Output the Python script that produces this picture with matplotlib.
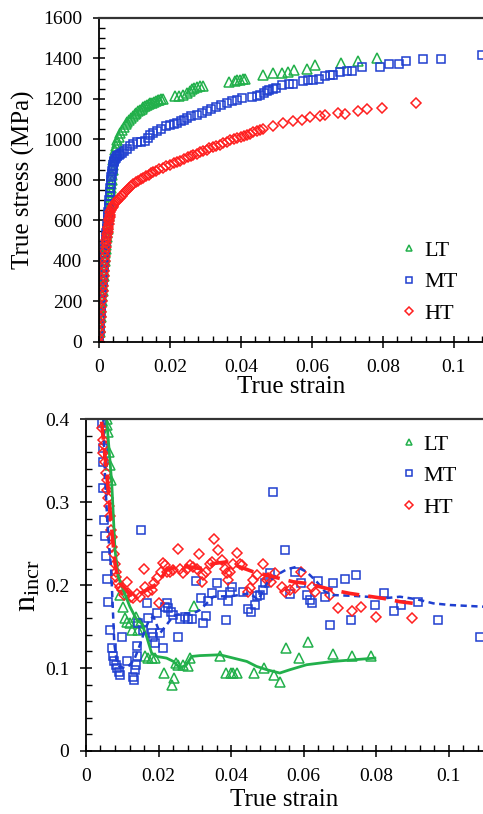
import matplotlib
matplotlib.use("Agg")
import matplotlib.pyplot as plt
from matplotlib.ticker import MultipleLocator, FuncFormatter

plt.rcParams["font.family"] = ["Liberation Serif", "DejaVu Serif"]
plt.rcParams["mathtext.fontset"] = "custom"
plt.rcParams["mathtext.rm"] = "Liberation Serif"
plt.rcParams["mathtext.it"] = "Liberation Serif:italic"

GREEN = "#22b04b"
BLUE = "#1f3fd0"
RED = "#ff2020"

# ---- top panel: true stress vs true strain ----
lt_strain = [0, 0.0001, 0.0002, 0.0003, 0.0004, 0.0005, 0.0006, 0.0007, 0.0008, 0.0009,
             0.001, 0.0011, 0.0012, 0.0013, 0.0014, 0.0015, 0.0016, 0.0017, 0.0018, 0.0019,
             0.002, 0.0021, 0.0022, 0.0023, 0.0024, 0.0025, 0.0026, 0.0027, 0.0028, 0.0029,
             0.003, 0.0031, 0.0032, 0.0033, 0.0034, 0.0035, 0.0036, 0.0037, 0.0038, 0.0039,
             0.004, 0.0042, 0.0045, 0.0047, 0.005, 0.0052, 0.0055, 0.006, 0.0065, 0.007,
             0.0075, 0.008, 0.0085, 0.009, 0.0095, 0.01, 0.0105, 0.011, 0.0115, 0.012,
             0.0125, 0.013, 0.0135, 0.014, 0.0145, 0.015, 0.0155, 0.016, 0.0165, 0.017,
             0.0175, 0.018,
             0.0214, 0.0225, 0.0236, 0.0247, 0.0255, 0.0261, 0.0268, 0.0275, 0.0285, 0.0294,
             0.0367, 0.0383, 0.039, 0.0397, 0.0405, 0.0411, 0.0463, 0.049, 0.0515, 0.0533,
             0.0549, 0.0587, 0.061, 0.0681, 0.073, 0.0784]
lt_stress = [0, 25, 50, 75, 100, 125, 150, 175, 200, 225,
             250, 275, 300, 325, 350, 375, 400, 420, 440, 460,
             480, 500, 520, 540, 560, 580, 600, 620, 640, 660,
             680, 700, 720, 740, 760, 780, 800, 825, 850, 875,
             900, 920, 950, 968, 985, 995, 1010, 1030, 1048, 1062,
             1075, 1087, 1098, 1108, 1117, 1125, 1133, 1140, 1146, 1152,
             1158, 1164, 1169, 1174, 1178, 1182, 1186, 1190, 1193, 1196,
             1199, 1202,
             1217, 1215, 1221, 1232, 1240, 1248, 1252, 1258, 1262, 1265,
             1282, 1287, 1292, 1295, 1298, 1301, 1318, 1328, 1328, 1331,
             1344, 1349, 1366, 1377, 1389, 1402]

mt_strain = [0, 0.0001, 0.0002, 0.0003, 0.0004, 0.0005, 0.0006, 0.0007, 0.0008, 0.0009,
             0.001, 0.0011, 0.0012, 0.0013, 0.0014, 0.0015, 0.0016, 0.0017, 0.0018, 0.0019,
             0.002, 0.0021, 0.0022, 0.0023, 0.0024, 0.0025, 0.0026, 0.0027, 0.0028, 0.0029,
             0.003, 0.0031, 0.0032, 0.0033, 0.0034, 0.0035, 0.0036, 0.0037, 0.0038, 0.0039,
             0.004, 0.0042, 0.0043, 0.0045, 0.0047, 0.005, 0.0052, 0.0055, 0.0058, 0.0064,
             0.007, 0.0078, 0.0087, 0.0095, 0.0106, 0.0118, 0.013, 0.0137, 0.0144, 0.0152,
             0.0162, 0.0175, 0.019, 0.02, 0.021, 0.0219, 0.023, 0.024, 0.0247, 0.026,
             0.0275, 0.029, 0.0303, 0.0315, 0.0331, 0.0345, 0.036, 0.0375, 0.0388, 0.0402,
             0.0432, 0.0445, 0.0454, 0.0465, 0.0472, 0.048, 0.049, 0.05, 0.0515, 0.0535,
             0.0547, 0.0576, 0.059, 0.0604, 0.062, 0.0636, 0.065, 0.066, 0.0679, 0.07,
             0.0712, 0.074, 0.0792, 0.0818, 0.0846, 0.0865, 0.0914, 0.0965, 0.1078]
mt_stress = [0, 30, 60, 90, 120, 150, 180, 210, 240, 270,
             300, 325, 350, 375, 400, 420, 440, 460, 480, 500,
             520, 540, 560, 580, 600, 620, 640, 660, 680, 700,
             720, 740, 760, 780, 800, 815, 830, 843, 855, 865,
             875, 888, 895, 903, 910, 916, 920, 924, 928, 935,
             943, 955, 967, 978, 986, 988, 991, 1005, 1024, 1030,
             1041, 1050, 1066, 1072, 1077, 1082, 1090, 1098, 1107, 1115,
             1122, 1130, 1140, 1150, 1160, 1170, 1181, 1190, 1196, 1203,
             1212, 1215, 1221, 1230, 1237, 1242, 1249, 1256, 1270, 1273,
             1273, 1290, 1292, 1295, 1298, 1315, 1316, 1318, 1331, 1338,
             1339, 1357, 1356, 1372, 1372, 1389, 1397, 1397, 1419]

ht_strain = [0, 0.0001, 0.0002, 0.0003, 0.0004, 0.0005, 0.0006, 0.0007, 0.0008, 0.0009,
             0.001, 0.0011, 0.0012, 0.0013, 0.0014, 0.0015, 0.0016, 0.0017, 0.0018, 0.0019,
             0.002, 0.0021, 0.0022, 0.0023, 0.0024, 0.0025, 0.0026, 0.0027, 0.0028, 0.0029,
             0.003, 0.0031, 0.0032, 0.0034, 0.0036, 0.0038, 0.004, 0.0043, 0.0047, 0.005,
             0.0054, 0.0059, 0.0064, 0.0068, 0.0073, 0.0079, 0.0085, 0.0091, 0.0097, 0.0103,
             0.011, 0.0117, 0.0125, 0.0132, 0.014, 0.0146, 0.0153, 0.0161, 0.017, 0.018,
             0.019, 0.02, 0.021, 0.0219, 0.0228, 0.0239, 0.025, 0.0258, 0.0266, 0.0275,
             0.0285, 0.0294, 0.0303, 0.0311, 0.032, 0.033, 0.0341, 0.035, 0.036, 0.037,
             0.0379, 0.039, 0.04, 0.0408, 0.0416, 0.0425, 0.0435, 0.0445, 0.0454,
             0.0461, 0.0491, 0.0519, 0.0547, 0.0571, 0.0594, 0.0623, 0.0636, 0.0674, 0.0693,
             0.073, 0.0754, 0.0796, 0.0894]
ht_stress = [0, 25, 50, 75, 100, 125, 150, 175, 200, 225,
             250, 275, 300, 325, 350, 375, 400, 425, 450, 470,
             490, 505, 520, 533, 545, 558, 570, 583, 595, 607,
             618, 629, 640, 650, 660, 665, 670, 680, 690, 698,
             705, 713, 720, 730, 740, 750, 760, 770, 780, 788,
             795, 803, 810, 818, 825, 832, 838, 846, 853, 861,
             868, 875, 882, 889, 896, 904, 911, 918, 924, 930,
             937, 944, 950, 956, 962, 969, 975, 982, 990, 997,
             1003, 1008, 1013, 1018, 1023, 1029, 1035, 1041, 1047,
             1052, 1067, 1080, 1089, 1097, 1110, 1118, 1122, 1130, 1127,
             1143, 1151, 1155, 1178]

# ---- bottom panel: incremental strain-hardening exponent ----
lt_n_strain = [0.0057, 0.0059, 0.0062, 0.0063, 0.0066, 0.0069, 0.0094, 0.0103, 0.0107, 0.0112,
               0.0121, 0.0126, 0.0138, 0.0144, 0.0149, 0.0163, 0.0172, 0.0181, 0.019, 0.0215,
               0.0236, 0.0242, 0.0247, 0.0254, 0.0268, 0.0282, 0.0288, 0.0298, 0.0369, 0.0386,
               0.0399, 0.0406, 0.0415, 0.0464, 0.0491, 0.0518, 0.0534, 0.055, 0.0588, 0.0612,
               0.0681, 0.0733, 0.0785]
lt_n = [0.400, 0.393, 0.385, 0.361, 0.345, 0.327, 0.188, 0.174, 0.160, 0.156,
        0.154, 0.146, 0.162, 0.146, 0.154, 0.114, 0.112, 0.112, 0.112, 0.094,
        0.080, 0.088, 0.106, 0.104, 0.104, 0.102, 0.112, 0.175, 0.114, 0.094,
        0.094, 0.094, 0.094, 0.094, 0.0997, 0.092, 0.083, 0.124, 0.112, 0.131,
        0.117, 0.114, 0.115]

mt_n_strain = [0.0044, 0.0046, 0.0048, 0.0048, 0.0051, 0.0052, 0.0055, 0.0057, 0.0062, 0.0066,
               0.0071, 0.0075, 0.0078, 0.0083, 0.0086, 0.009, 0.0094, 0.01, 0.0114, 0.013,
               0.0132, 0.0135, 0.0138, 0.014, 0.0141, 0.0144, 0.0152, 0.0158, 0.0169, 0.0172,
               0.0181, 0.0185, 0.019, 0.0195, 0.0204, 0.0213, 0.0218, 0.0222, 0.0227, 0.0233,
               0.0241, 0.0254, 0.0259, 0.0273, 0.0282, 0.0291, 0.0303, 0.0316, 0.0323, 0.0332,
               0.0337, 0.0346, 0.036, 0.0374, 0.0385, 0.0392, 0.0397, 0.0401, 0.0433, 0.0447,
               0.0456, 0.0465, 0.047, 0.0479, 0.0488, 0.0493, 0.0507, 0.0514, 0.0548, 0.0562,
               0.0576, 0.0592, 0.0608, 0.0617, 0.0622, 0.064, 0.0658, 0.0672, 0.0681, 0.0713,
               0.0729, 0.0744, 0.0796, 0.0821, 0.0849, 0.0868, 0.0916, 0.0971, 0.1085]
mt_n = [0.395, 0.365, 0.348, 0.317, 0.279, 0.259, 0.235, 0.207, 0.180, 0.146,
        0.124, 0.114, 0.108, 0.104, 0.0997, 0.0957, 0.0917, 0.138, 0.108, 0.0896,
        0.0856, 0.0977, 0.104, 0.114, 0.126, 0.154, 0.266, 0.146, 0.178, 0.160,
        0.142, 0.138, 0.130, 0.166, 0.142, 0.124, 0.174, 0.178, 0.172, 0.168,
        0.164, 0.138, 0.159, 0.162, 0.159, 0.159, 0.205, 0.184, 0.154, 0.163,
        0.181, 0.191, 0.202, 0.188, 0.158, 0.181, 0.192, 0.198, 0.192, 0.171,
        0.167, 0.176, 0.187, 0.188, 0.194, 0.202, 0.215, 0.312, 0.242, 0.189,
        0.216, 0.203, 0.188, 0.182, 0.179, 0.205, 0.186, 0.152, 0.203, 0.207,
        0.158, 0.212, 0.176, 0.191, 0.169, 0.176, 0.180, 0.158, 0.137]

ht_n_strain = [0.0043, 0.0048, 0.005, 0.0048, 0.0052, 0.0055, 0.0057, 0.0059, 0.0062, 0.0064,
               0.0066, 0.0069, 0.0071, 0.0073, 0.0077, 0.008, 0.0083, 0.0084, 0.0089, 0.0094,
               0.0098, 0.0105, 0.0112, 0.0117, 0.0123, 0.013, 0.014, 0.0149, 0.016, 0.0164,
               0.0172, 0.0181, 0.0187, 0.0195, 0.0202, 0.0208, 0.0213, 0.0218, 0.0222, 0.0231,
               0.0241, 0.0254, 0.0259, 0.0268, 0.0277, 0.0286, 0.0296, 0.0305, 0.0312, 0.0319,
               0.0323, 0.0332, 0.0342, 0.0346, 0.0353, 0.0365, 0.0374, 0.0383, 0.0388, 0.0392,
               0.0397, 0.0406, 0.0415, 0.0424, 0.0429, 0.0447, 0.0452, 0.0461, 0.047, 0.0489,
               0.0498, 0.0502, 0.0511, 0.0521, 0.0539, 0.0548, 0.0562, 0.0576, 0.0592, 0.0622,
               0.0631, 0.0672, 0.0695, 0.0732, 0.0757, 0.0799, 0.0897]
ht_n = [0.389, 0.375, 0.369, 0.359, 0.349, 0.335, 0.327, 0.315, 0.305, 0.295,
        0.283, 0.267, 0.258, 0.246, 0.238, 0.226, 0.216, 0.210, 0.202, 0.198,
        0.194, 0.188, 0.204, 0.190, 0.186, 0.184, 0.189, 0.186, 0.219, 0.198,
        0.192, 0.194, 0.202, 0.208, 0.179, 0.216, 0.227, 0.224, 0.216, 0.216,
        0.218, 0.243, 0.220, 0.214, 0.220, 0.224, 0.222, 0.220, 0.237, 0.204,
        0.212, 0.216, 0.226, 0.228, 0.256, 0.242, 0.230, 0.220, 0.215, 0.206,
        0.216, 0.226, 0.239, 0.226, 0.224, 0.192, 0.196, 0.206, 0.212, 0.226,
        0.206, 0.208, 0.204, 0.214, 0.198, 0.192, 0.194, 0.196, 0.216, 0.198,
        0.192, 0.188, 0.172, 0.169, 0.173, 0.162, 0.160]

# fitted / smoothed curves
lt_fit_strain = [0.0057, 0.0071, 0.008, 0.0089, 0.0103, 0.0121, 0.014, 0.0153, 0.0167, 0.0181,
                 0.0195, 0.0222, 0.0241, 0.0259, 0.0277, 0.0291, 0.0314, 0.0369, 0.0406, 0.0443,
                 0.047, 0.0498, 0.0534, 0.0562, 0.0608, 0.0681, 0.0796]
lt_fit = [0.400, 0.323, 0.242, 0.210, 0.194, 0.174, 0.158, 0.154, 0.138, 0.118,
          0.114, 0.112, 0.108, 0.100, 0.104, 0.114, 0.115, 0.116, 0.112, 0.108,
          0.102, 0.098, 0.094, 0.098, 0.104, 0.108, 0.112]

mt_fit_strain = [0.0048, 0.0052, 0.0059, 0.0065, 0.0069, 0.0073, 0.0078, 0.0084, 0.0092, 0.0106,
                 0.0119, 0.0133, 0.0147, 0.0161, 0.0174, 0.0186, 0.0204, 0.0222, 0.0241, 0.0268,
                 0.0296, 0.0314, 0.0351, 0.0406, 0.0452, 0.0475, 0.0498, 0.0525, 0.0553, 0.058,
                 0.0608, 0.0636, 0.0659, 0.0682, 0.0736, 0.0773, 0.0819, 0.0865, 0.0911, 0.0957,
                 0.1003, 0.1094]
mt_fit = [0.400, 0.335, 0.275, 0.240, 0.222, 0.182, 0.130, 0.110, 0.102, 0.100,
          0.103, 0.110, 0.126, 0.144, 0.158, 0.162, 0.142, 0.152, 0.163, 0.166,
          0.166, 0.170, 0.186, 0.187, 0.190, 0.182, 0.202, 0.212, 0.219, 0.222,
          0.216, 0.204, 0.192, 0.188, 0.187, 0.186, 0.184, 0.186, 0.183, 0.178,
          0.176, 0.174]

ht_fit_strain = [0.0043, 0.0057, 0.0071, 0.008, 0.0089, 0.0094, 0.0112, 0.013, 0.0149, 0.0167,
                 0.0185, 0.0204, 0.0222, 0.025, 0.0286, 0.0314, 0.0351, 0.0388, 0.0424, 0.0461,
                 0.0498, 0.0534, 0.0571, 0.0608, 0.0645, 0.0681, 0.0727, 0.0773, 0.0819, 0.0865,
                 0.0902]
ht_fit = [0.397, 0.335, 0.267, 0.226, 0.206, 0.202, 0.194, 0.186, 0.190, 0.194,
          0.198, 0.206, 0.218, 0.222, 0.222, 0.220, 0.226, 0.228, 0.222, 0.216,
          0.212, 0.208, 0.204, 0.202, 0.198, 0.194, 0.190, 0.187, 0.184, 0.180,
          0.178]

labels = ["LT", "MT", "HT"]
x_ticks = [0, 0.02, 0.04, 0.06, 0.08, 0.1]


def style_axes(ax, xmax, ymax, ymajor, yminor, yfmt, xlabelpad):
    ax.set_xlim(0, xmax)
    ax.set_ylim(0, ymax)
    ax.set_xticks(x_ticks)
    ax.xaxis.set_major_formatter(FuncFormatter(lambda v, p: f"{v:g}"))
    ax.xaxis.set_minor_locator(MultipleLocator(0.004))
    ax.yaxis.set_major_locator(MultipleLocator(ymajor))
    ax.yaxis.set_minor_locator(MultipleLocator(yminor))
    ax.yaxis.set_major_formatter(FuncFormatter(yfmt))
    ax.tick_params(which="major", direction="inout", length=8, width=1.1,
                   labelsize=14, pad=8)
    ax.tick_params(which="minor", direction="in", length=4, width=1.0)
    ax.tick_params(top=False, right=False, which="both")
    ax.spines["right"].set_visible(False)
    ax.spines["top"].set_linewidth(1.6)
    ax.spines["top"].set_color("#333333")
    for s in ("left", "bottom"):
        ax.spines[s].set_linewidth(1.3)
    ax.set_xlabel("True strain", fontsize=18, labelpad=xlabelpad)


fig = plt.figure(figsize=(4.83, 8.14), dpi=100, facecolor="white")
ax1 = fig.add_axes([0.205, 0.5799, 0.795, 0.398])
ax2 = fig.add_axes([0.178, 0.0774, 0.822, 0.4076])

mk = dict(linestyle="none", markerfacecolor="none", markeredgewidth=1.1)

# top panel
ax1.plot(lt_strain, lt_stress, marker="^", ms=6.5, color=GREEN, label=labels[0], **mk)
ax1.plot(mt_strain, mt_stress, marker="s", ms=5.5, color=BLUE, label=labels[1], **mk)
ax1.plot(ht_strain, ht_stress, marker="D", ms=5, color=RED, label=labels[2], **mk)
style_axes(ax1, 0.1082, 1600, 200, 50, lambda v, p: f"{v:.0f}", 0)
ax1.set_ylabel("True stress (MPa)", fontsize=18, labelpad=6)
ax1.legend(loc="center", bbox_to_anchor=(0.862, 0.185), frameon=False, fontsize=16,
           handlelength=0.6, handletextpad=0.35, labelspacing=0.5, markerscale=0.75,
           borderpad=0)

# bottom panel
ax2.plot(lt_n_strain, lt_n, marker="^", ms=6.5, color=GREEN, label=labels[0], **mk)
ax2.plot(mt_n_strain, mt_n, marker="s", ms=5.5, color=BLUE, label=labels[1], **mk)
ax2.plot(ht_n_strain, ht_n, marker="D", ms=5, color=RED, label=labels[2], **mk)
ax2.plot(lt_fit_strain, lt_fit, color=GREEN, lw=2.0, solid_joinstyle="round")
ax2.plot(mt_fit_strain, mt_fit, color=BLUE, lw=1.8, linestyle=(0, (2.5, 1.8)))
ax2.plot(ht_fit_strain, ht_fit, color=RED, lw=2.6, linestyle=(0, (5, 2.5)))
style_axes(ax2, 0.1094, 0.4, 0.1, 0.02, lambda v, p: f"{v:g}", 3)
ax2.set_ylabel(r"n$_{\mathrm{incr}}$", fontsize=23, labelpad=2)
ax2.legend(loc="center", bbox_to_anchor=(0.866, 0.829), frameon=False, fontsize=16,
           handlelength=0.6, handletextpad=0.35, labelspacing=0.5, markerscale=0.75,
           borderpad=0)

fig.savefig("out.png", dpi=100, facecolor="white")
